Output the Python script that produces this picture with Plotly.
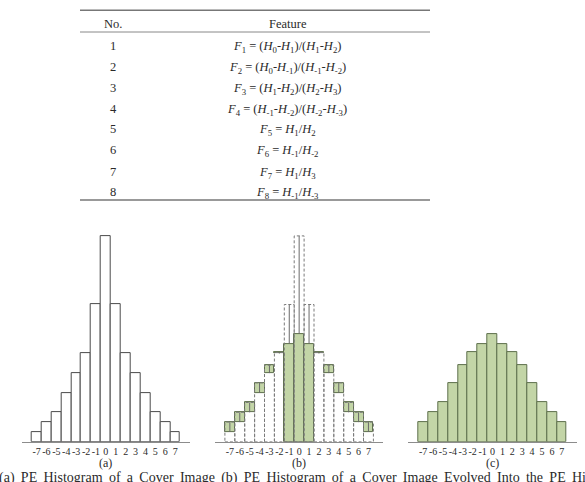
import plotly.graph_objects as go

# ---------------- data ----------------
table_header = ["No.", "Feature"]
table_nos = ["1", "2", "3", "4", "5", "6", "7", "8"]
table_features = [
    "<i>F</i><sub>1</sub> = (<i>H</i><sub>0</sub>-<i>H</i><sub>1</sub>)/(<i>H</i><sub>1</sub>-<i>H</i><sub>2</sub>)",
    "<i>F</i><sub>2</sub> = (<i>H</i><sub>0</sub>-<i>H</i><sub>-1</sub>)/(<i>H</i><sub>-1</sub>-<i>H</i><sub>-2</sub>)",
    "<i>F</i><sub>3</sub> = (<i>H</i><sub>1</sub>-<i>H</i><sub>2</sub>)/(<i>H</i><sub>2</sub>-<i>H</i><sub>3</sub>)",
    "<i>F</i><sub>4</sub> = (<i>H</i><sub>-1</sub>-<i>H</i><sub>-2</sub>)/(<i>H</i><sub>-2</sub>-<i>H</i><sub>-3</sub>)",
    "<i>F</i><sub>5</sub> = <i>H</i><sub>1</sub>/<i>H</i><sub>2</sub>",
    "<i>F</i><sub>6</sub> = <i>H</i><sub>-1</sub>/<i>H</i><sub>-2</sub>",
    "<i>F</i><sub>7</sub> = <i>H</i><sub>1</sub>/<i>H</i><sub>3</sub>",
    "<i>F</i><sub>8</sub> = <i>H</i><sub>-1</sub>/<i>H</i><sub>-3</sub>",
]
bins = [-7, -6, -5, -4, -3, -2, -1, 0, 1, 2, 3, 4, 5, 6, 7]
tick_labels = [str(b) for b in bins]
cover_counts = [1, 2, 3, 5, 7, 9, 14, 21, 14, 9, 7, 5, 3, 2, 1]
stego_counts = [2, 3, 4, 6, 7.8, 9.1, 10, 11, 10, 9.1, 7.8, 6, 4, 3, 2]
panel_labels = ["(a)", "(b)", "(c)"]
caption = ("(a) PE Histogram of a Cover Image (b) PE Histogram of a Cover Image "
           "Evolved Into the PE Histogram of a Stego Image (c) PE Histogram of a Stego Image")

# ---------------- style ----------------
W, H = 585, 482
SERIF = "Liberation Serif"
TXT = "#2a2a2a"
GREEN = "#c3d5a7"
GREEN_EDGE = "#5d6f4c"

def px(x):
    return x / W

def py(y):
    return 1 - y / H

fig = go.Figure()

# ---------------- histograms ----------------
x_domains = [(21.7, 190.0), (215.0, 383.3), (408.3, 576.7)]
y_dom = [py(441.7), py(226.1)]

# (a) cover histogram
fig.add_trace(go.Bar(x=bins, y=cover_counts, width=1,
                     marker=dict(color="white", line=dict(color="#4a4a4a", width=1)),
                     xaxis="x", yaxis="y", hoverinfo="skip"))

# (b) evolution: green changes + dashed original outline
b_base = [c if s >= c else 0 for c, s in zip(cover_counts, stego_counts)]
b_h = [s - b for s, b in zip(stego_counts, b_base)]
fig.add_trace(go.Bar(x=bins, y=b_h, base=b_base, width=1,
                     marker=dict(color=GREEN, line=dict(color=GREEN_EDGE, width=1)),
                     xaxis="x2", yaxis="y2", hoverinfo="skip"))
ax, ay = [], []
for b, c, s in zip(bins, cover_counts, stego_counts):
    ax += [b, b, None]
    ay += [min(c, s), max(c, s), None]
fig.add_trace(go.Scatter(x=ax, y=ay, mode="lines",
                         line=dict(color="#6a6a6a", width=1),
                         xaxis="x2", yaxis="y2", hoverinfo="skip"))

# (c) stego histogram
fig.add_trace(go.Bar(x=bins, y=stego_counts, width=1,
                     marker=dict(color=GREEN, line=dict(color=GREEN_EDGE, width=1)),
                     xaxis="x3", yaxis="y3", hoverinfo="skip"))

shapes = []
for b, c, s in zip(bins, cover_counts, stego_counts):
    shapes.append(dict(type="rect", xref="x2", yref="y2",
                       x0=b - 0.5, x1=b + 0.5, y0=0, y1=max(c, s),
                       line=dict(color="#7a7a7a", width=1, dash="3px,2px"),
                       layer="above"))

# table rules
shapes.append(dict(type="line", xref="paper", yref="paper", x0=px(80), x1=px(430),
                   y0=py(10.3), y1=py(10.3), line=dict(color="#777", width=1.5)))
shapes.append(dict(type="line", xref="paper", yref="paper", x0=px(80), x1=px(430),
                   y0=py(32), y1=py(32), line=dict(color="#888", width=1)))
shapes.append(dict(type="line", xref="paper", yref="paper", x0=px(80), x1=px(430),
                   y0=py(200), y1=py(200), line=dict(color="#777", width=1.5)))

annotations = []
def ann(x, y, text, size, xref="paper", xanchor="center"):
    annotations.append(dict(x=x, y=y, xref=xref, yref="paper", text=text,
                            xanchor=xanchor, yanchor="middle", showarrow=False,
                            font=dict(family=SERIF, size=size, color=TXT)))

# table header
ann(px(113), py(23.5), table_header[0], 12.5)
ann(px(288), py(23.5), table_header[1], 12.5)
row_y = [45.7, 66.7, 88.3, 109.3, 129.3, 150.0, 171.7, 191.7]
for n, f, yy in zip(table_nos, table_features, row_y):
    ann(px(113), py(yy), n, 12.5)
    ann(px(287), py(yy + 1), f, 12.5)

for lab, xr in zip(panel_labels, ["x", "x2", "x3"]):
    ann(0, py(463), lab, 12, xref=xr)

cap_text = caption.replace(" ", " &#8201;")
ann(px(-3), py(477.5), cap_text, 14, xanchor="left")

layout = dict(
    width=W, height=H, margin=dict(l=0, r=0, t=0, b=0),
    paper_bgcolor="white", plot_bgcolor="white", showlegend=False,
    bargap=0, shapes=shapes, annotations=annotations,
)
for i, (d, lab) in enumerate(zip(x_domains, ["", "2", "3"])):
    layout["xaxis" + lab] = dict(domain=[px(d[0]), px(d[1])], range=[-8.5, 8.5],
                                 anchor="y" + lab, showline=True, linecolor="#8c8c8c", linewidth=1,
                                 showgrid=False, zeroline=False, ticks="", tickangle=0,
                                 tickmode="array", tickvals=bins, ticktext=tick_labels,
                                 tickfont=dict(family=SERIF, size=10, color=TXT),
                                 fixedrange=True)
    layout["yaxis" + lab] = dict(domain=y_dom, range=[0, 22], anchor="x" + lab,
                                 visible=False, fixedrange=True)
fig.update_layout(**layout)

fig.write_html("out.html")
